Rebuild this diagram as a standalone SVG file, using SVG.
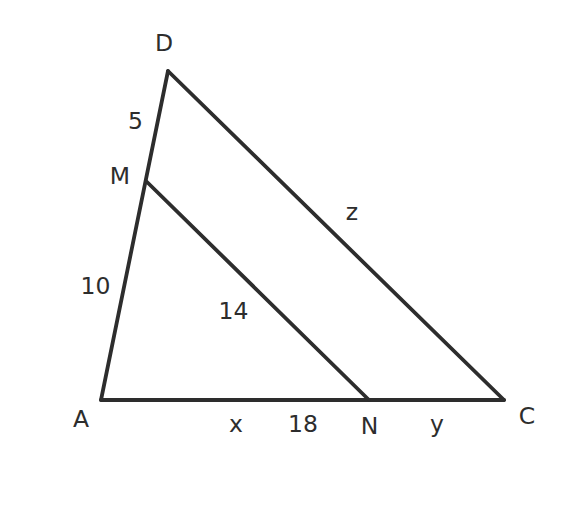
<svg xmlns="http://www.w3.org/2000/svg" width="576" height="512" viewBox="0 0 576 512">
<style>
.e{stroke:#2d2d2d;stroke-width:3.8;fill:none;stroke-linecap:round;stroke-linejoin:round}
text{font-family:"DejaVu Sans",sans-serif;font-size:23.5px;fill:#2d2d2d;text-anchor:middle}
</style>
<rect width="576" height="512" fill="#ffffff"/>
<g id="connectors">
<line class="e" x1="101" y1="400" x2="168" y2="71"/>
<line class="e" x1="168" y1="71" x2="504" y2="400"/>
<line class="e" x1="101" y1="400" x2="504" y2="400"/>
<line class="e" x1="146.5" y1="181.5" x2="369" y2="400"/>
</g>
<g id="A"><text x="81" y="427">A</text></g>
<g id="D"><text x="164" y="51">D</text></g>
<g id="C"><text x="527" y="424">C</text></g>
<g id="M"><text x="120" y="184">M</text></g>
<g id="N"><text x="369.5" y="434">N</text></g>
<g id="labels">
<text x="135.5" y="129">5</text>
<text x="95.5" y="294">10</text>
<text x="233.5" y="319">14</text>
<text x="352" y="220">z</text>
<text x="236" y="432">x</text>
<text x="303" y="432">18</text>
<text x="437" y="432">y</text>
</g>
</svg>
